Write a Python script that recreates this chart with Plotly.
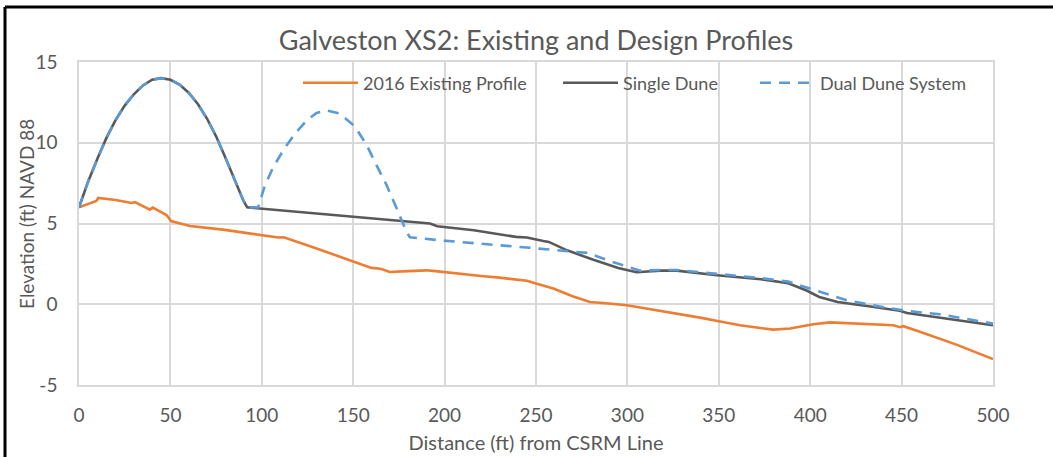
import plotly.graph_objects as go

# 2016 surveyed profile
existing_x = [0, 8.8, 9.5, 10.5, 20, 28.8, 30.6, 38.8, 40.3, 45, 48, 50.3, 60.7, 78.8, 99, 109, 112,
              120, 130, 140, 148, 155, 160, 165, 170, 180, 190, 195, 199, 210, 220, 230, 239, 245,
              250, 259.5, 270, 279.5, 290, 299.6, 307, 318, 330, 339.7, 350, 361.6, 370.7, 379.8,
              389, 401.7, 410.8, 423.6, 438, 445.5, 449, 451, 460, 480, 500]
existing_y = [6.0, 6.33, 6.4, 6.58, 6.45, 6.27, 6.32, 5.86, 5.99, 5.7, 5.51, 5.15, 4.85, 4.62, 4.27, 4.13, 4.15,
              3.86, 3.45, 3.05, 2.72, 2.45, 2.25, 2.2, 2.0, 2.05, 2.1, 2.05, 2.0, 1.85, 1.75, 1.65, 1.53, 1.45,
              1.28, 0.97, 0.5, 0.14, 0.05, -0.06, -0.2, -0.4, -0.65, -0.83, -1.05, -1.3, -1.44, -1.57,
              -1.5, -1.24, -1.12, -1.18, -1.25, -1.3, -1.42, -1.36, -1.7, -2.5, -3.4]

# Single dune design
single_x = [0, 5, 10, 15, 20, 25, 30, 35, 40, 45, 50, 55, 60, 65, 70, 75, 80, 85, 90, 92,
            143, 192, 196, 216, 239, 245, 254, 257, 267, 281, 295, 305, 318, 327, 349, 373,
            388, 398, 405, 415, 434, 449, 453, 500]
single_y = [6.0, 7.6, 9.0, 10.3, 11.4, 12.3, 13.0, 13.55, 13.9, 14.0, 13.9, 13.6, 13.1, 12.4, 11.5, 10.4, 9.1, 7.7, 6.4, 6.0,
            5.5, 5.0, 4.83, 4.58, 4.17, 4.13, 3.92, 3.86, 3.34, 2.77, 2.25, 1.98, 2.08, 2.08, 1.8, 1.55,
            1.3, 0.85, 0.45, 0.14, -0.16, -0.4, -0.54, -1.3]

# Dual dune design
dual_x = [0, 5, 10, 15, 20, 25, 30, 35, 40, 45, 50, 55, 60, 65, 70, 75, 80, 85, 90, 92,
          98, 101.7, 106.3, 111.8, 118.2, 124.6, 130, 135.5, 142.8, 151, 157.4, 162.8, 168.3,
          173.8, 177.4, 179.2, 181, 197.5, 245, 263, 278, 292, 303, 307, 318, 327, 349, 373,
          388, 396, 409, 420, 434, 453, 471, 500]
dual_y = [6.0, 7.6, 9.0, 10.3, 11.4, 12.3, 13.0, 13.55, 13.9, 14.0, 13.9, 13.6, 13.1, 12.4, 11.5, 10.4, 9.1, 7.7, 6.4, 6.0,
          6.0, 7.37, 8.5, 9.54, 10.57, 11.39, 11.85, 12.0, 11.8, 11.0, 9.85, 8.6, 7.37,
          5.93, 5.0, 4.48, 4.15, 3.96, 3.51, 3.34, 3.18, 2.62, 2.2, 2.08, 2.12, 2.12, 1.88, 1.62,
          1.4, 1.11, 0.66, 0.25, -0.06, -0.42, -0.62, -1.2]

x_ticks = [0, 50, 100, 150, 200, 250, 300, 350, 400, 450, 500]
y_ticks = [-5, 0, 5, 10, 15]
y_tick_labels = ["-5", "0", "5", "10", "15"]

FONT = "Lato"
TXT = "#595959"
GRID = "#D9D9D9"

# plot area in pixels: left 79, right 993, top 62, bottom 385
PL, PW, PT, PH = 79, 914, 62, 323


def px_x(p):
    return (p - PL) / PW


def px_y(p):
    return (PT + PH - p) / PH


fig = go.Figure()
fig.add_trace(go.Scatter(x=existing_x, y=existing_y, mode="lines", name="2016 Existing Profile",
                         line=dict(color="#ED7D31", width=2.6), legend="legend", showlegend=True))
fig.add_trace(go.Scatter(x=single_x, y=single_y, mode="lines", name="Single Dune",
                         line=dict(color="#595959", width=2.6), legend="legend2", showlegend=True))
fig.add_trace(go.Scatter(x=dual_x, y=dual_y, mode="lines", name="Dual Dune System",
                         line=dict(color="#5B9BD5", width=2.6, dash="11px,8px"), legend="legend3",
                         showlegend=True))

# outer frame (left and top edges)
fx0 = px_x(5)
fy1 = px_y(7)
fig.add_shape(type="line", xref="paper", yref="paper", x0=fx0, x1=fx0, y0=-0.25, y1=fy1,
              line=dict(color="black", width=3))
fig.add_shape(type="line", xref="paper", yref="paper", x0=fx0, x1=1.08, y0=fy1, y1=fy1,
              line=dict(color="black", width=3))

# vertical axis title
fig.add_annotation(text="Elevation (ft) NAVD 88", xref="paper", yref="paper", x=px_x(26), y=px_y(214),
                   xanchor="center", yanchor="middle", textangle=-90, showarrow=False,
                   font=dict(size=19, color=TXT, family=FONT))

leg_common = dict(orientation="h", xanchor="left", yanchor="middle", y=px_y(83),
                  bgcolor="rgba(0,0,0,0)", font=dict(size=18, color=TXT, family=FONT), itemwidth=55)

fig.update_layout(
    width=1053, height=457,
    margin=dict(l=PL, r=1053 - PL - PW, t=PT, b=457 - PT - PH),
    paper_bgcolor="white", plot_bgcolor="white",
    showlegend=True,
    font=dict(family=FONT, color=TXT, size=19),
    title=dict(text="Galveston XS2: Existing and Design Profiles", x=536 / 1053, xanchor="center",
               y=1 - 41 / 457, yanchor="middle", font=dict(size=27, color=TXT, family=FONT)),
    legend=dict(x=px_x(298), **leg_common),
    legend2=dict(x=px_x(558), **leg_common),
    legend3=dict(x=px_x(755), **leg_common),
    xaxis=dict(range=[0, 500], tickvals=x_ticks, showgrid=True, gridcolor=GRID, gridwidth=1.5,
               zeroline=False, showline=True, linecolor=GRID, linewidth=1.5, mirror=True, automargin=False,
               ticks="", ticklabelstandoff=12, tickfont=dict(size=19, color=TXT),
               title=dict(text="Distance (ft) from CSRM Line", standoff=11, font=dict(size=20, color=TXT))),
    yaxis=dict(range=[-5, 15], tickvals=y_ticks, ticktext=y_tick_labels, showgrid=True, gridcolor=GRID,
               gridwidth=1.5, zeroline=False, showline=True, linecolor=GRID, linewidth=1.5, mirror=True,
               automargin=False, ticks="", ticklabelstandoff=16, tickfont=dict(size=19, color=TXT)),
)

fig.write_html("out.html")
